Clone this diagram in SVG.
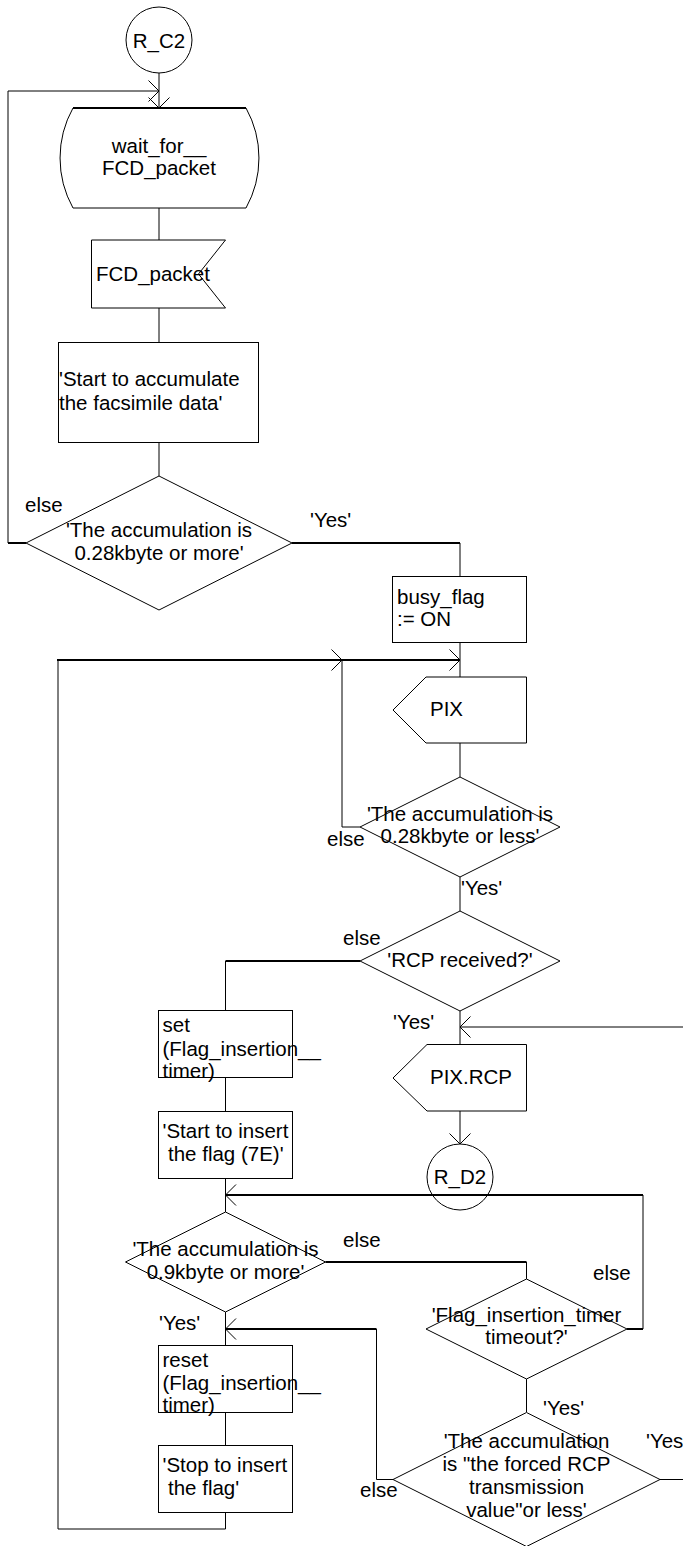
<svg xmlns="http://www.w3.org/2000/svg" width="683" height="1546" viewBox="0 0 683 1546">
<style>
.s{fill:none;stroke:#000;stroke-width:1}
.b{fill:none;stroke:#000;stroke-width:2}
.c{fill:none;stroke:#000;stroke-width:1}
.t{font-family:"Liberation Sans",Arial,sans-serif;font-size:20.5px;fill:#000}
.m{text-anchor:middle}
</style>
<defs>
<marker id="ah" viewBox="0 0 12 22" markerWidth="12" markerHeight="22" refX="11" refY="11" orient="auto" markerUnits="userSpaceOnUse">
<path d="M0.5,0.5 L11,11 L0.5,21.5" fill="none" stroke="#000" stroke-width="1"/>
</marker>
</defs>
<rect width="683" height="1546" fill="#fff"/>

<g id="n_rc2"><circle class="s" cx="159" cy="40" r="33"/><text class="t m" x="159" y="47.5">R_C2</text></g>
<g id="n_wait"><path class="s" d="M73,108 L246,108 A103,103 0 0 1 246,208 L73,208 A103,103 0 0 1 73,108 Z"/><line class="b" x1="73" y1="108" x2="246" y2="108"/><text class="t m" x="159" y="153">wait_for__</text><text class="t m" x="159" y="174.5">FCD_packet</text></g>
<g id="n_fcd"><path class="s" d="M91.5,240 L225.5,240 L198.5,274 L225.5,308 L91.5,308 Z"/><text class="t" x="96" y="281">FCD_packet</text></g>
<g id="n_start_acc"><rect class="s" x="58.5" y="342.5" width="200" height="100"/><text class="t" x="59" y="386">'Start to accumulate</text><text class="t" x="59" y="410">the facsimile data'</text></g>
<g id="n_d1"><path class="s" d="M159,476 L292,543 L159,610 L26,543 Z"/><text class="t m" x="159" y="537">'The accumulation is</text><text class="t m" x="159" y="560">0.28kbyte or more'</text></g>
<g id="n_busy"><rect class="s" x="392.5" y="576.5" width="134" height="66"/><text class="t" x="397" y="604">busy_flag</text><text class="t" x="397" y="626">:= ON</text></g>
<g id="n_pix"><path class="s" d="M426,677 L526.5,677 L526.5,743 L426,743 L393,710 Z"/><text class="t" x="430" y="716">PIX</text></g>
<g id="n_d2"><path class="s" d="M460,777 L560,827 L460,877 L360,827 Z"/><text class="t m" x="460" y="821">'The accumulation is</text><text class="t m" x="460" y="843">0.28kbyte or less'</text></g>
<g id="n_d3"><path class="s" d="M460,911 L560,961 L460,1011 L360,961 Z"/><text class="t m" x="460" y="967">'RCP received?'</text></g>
<g id="n_set"><rect class="s" x="158.5" y="1010.5" width="134" height="67"/><text class="t" x="162.5" y="1032">set</text><text class="t" x="162.5" y="1055.5">(Flag_insertion__</text><text class="t" x="162.5" y="1078">timer)</text></g>
<g id="n_pixrcp"><path class="s" d="M427,1044.5 L526.5,1044.5 L526.5,1111 L427,1111 L393,1078 Z"/><text class="t" x="430" y="1084">PIX.RCP</text></g>
<g id="n_start_ins"><rect class="s" x="158.5" y="1111.5" width="134" height="67"/><text class="t" x="162.5" y="1138">'Start to insert</text><text class="t" x="168" y="1161">the flag (7E)'</text></g>
<g id="n_rd2"><circle class="s" cx="460" cy="1177" r="33"/><text class="t m" x="460" y="1184">R_D2</text></g>
<g id="n_d4"><path class="s" d="M225.5,1212 L325.5,1262 L225.5,1312 L125.5,1262 Z"/><text class="t m" x="225.5" y="1256">'The accumulation is</text><text class="t m" x="225.5" y="1279">0.9kbyte or more'</text></g>
<g id="n_timer"><path class="s" d="M526.5,1279 L627,1329 L526.5,1379 L426,1329 Z"/><text class="t m" x="526.5" y="1322">'Flag_insertion_timer</text><text class="t m" x="526.5" y="1344">timeout?'</text></g>
<g id="n_reset"><rect class="s" x="158.5" y="1345.5" width="134" height="67"/><text class="t" x="162.5" y="1367">reset</text><text class="t" x="162.5" y="1390">(Flag_insertion__</text><text class="t" x="162.5" y="1412">timer)</text></g>
<g id="n_d5"><path class="s" d="M526.5,1412.5 L660,1479.5 L526.5,1546.5 L393,1479.5 Z"/><text class="t m" x="526.5" y="1448">'The accumulation</text><text class="t m" x="526.5" y="1471">is "the forced RCP</text><text class="t m" x="526.5" y="1494">transmission</text><text class="t m" x="526.5" y="1517">value"or less'</text></g>
<g id="n_stop"><rect class="s" x="158.5" y="1445.5" width="134" height="67"/><text class="t" x="162.5" y="1472">'Stop to insert</text><text class="t" x="168" y="1495">the flag'</text></g>

<g id="connectors">
<path class="c" d="M159,73 L159,108" marker-end="url(#ah)"/>
<path class="b" d="M26,543 L8,543"/>
<path class="c" d="M8,543 L8,91 L159,91" marker-end="url(#ah)"/>
<path class="c" d="M159,208 L159,240"/>
<path class="c" d="M159,308 L159,342"/>
<path class="c" d="M159,442 L159,476"/>
<path class="b" d="M292,543 L460,543"/>
<path class="c" d="M460,543 L460,576"/>
<path class="c" d="M460,643 L460,677"/>
<path class="c" d="M225.5,1512 L225.5,1529 L58,1529 L58,660"/>
<path class="b" d="M57,660 L342,660" marker-end="url(#ah)"/>
<path class="b" d="M342,660 L460,660" marker-end="url(#ah)"/>
<path class="c" d="M360,827 L342,827 L342,660"/>
<path class="c" d="M460,743 L460,777"/>
<path class="c" d="M460,877 L460,911"/>
<path class="b" d="M360,961 L225.5,961"/>
<path class="c" d="M225.5,961 L225.5,1011"/>
<path class="c" d="M225.5,1077 L225.5,1111"/>
<path class="c" d="M460,1011 L460,1044"/>
<path class="c" d="M683,1027 L460,1027" marker-end="url(#ah)"/>
<path class="c" d="M460,1111 L460,1144" marker-end="url(#ah)"/>
<path class="c" d="M225.5,1178 L225.5,1212"/>
<path class="b" d="M627,1329 L643,1329"/>
<path class="c" d="M643,1329 L643,1195"/>
<path class="b" d="M643,1195 L225.5,1195" marker-end="url(#ah)"/>
<path class="b" d="M325.5,1262 L526.5,1262"/>
<path class="c" d="M526.5,1262 L526.5,1279"/>
<path class="c" d="M225.5,1312 L225.5,1346"/>
<path class="c" d="M393,1479.5 L376.5,1479.5 L376.5,1329"/>
<path class="b" d="M376.5,1329 L225.5,1329" marker-end="url(#ah)"/>
<path class="c" d="M526.5,1379 L526.5,1412"/>
<path class="c" d="M660,1479.5 L683,1479.5"/>
<path class="c" d="M225.5,1412 L225.5,1445"/>
</g>

<g id="labels">
<text class="t" x="25" y="512">else</text>
<text class="t" x="310" y="527">'Yes'</text>
<text class="t" x="327" y="846">else</text>
<text class="t" x="461" y="895">'Yes'</text>
<text class="t" x="343" y="945">else</text>
<text class="t" x="393" y="1029">'Yes'</text>
<text class="t" x="343" y="1247">else</text>
<text class="t" x="593" y="1280">else</text>
<text class="t" x="159" y="1330">'Yes'</text>
<text class="t" x="543" y="1415">'Yes'</text>
<text class="t" x="646" y="1448">'Yes'</text>
<text class="t" x="360" y="1497">else</text>
</g>
</svg>
